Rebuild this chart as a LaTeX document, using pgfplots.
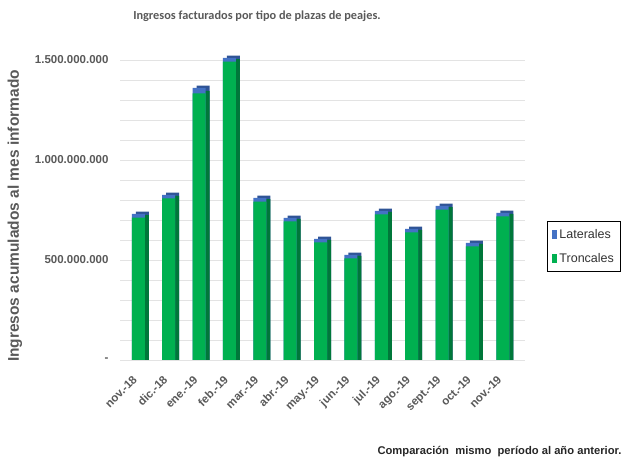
\documentclass[border=0pt]{standalone}
\usepackage{pgfplots}
\pgfplotsset{compat=1.18}
\usepackage{pgfplotstable}
\usepackage{fontspec}
\setmainfont{Liberation Sans}
\newfontfamily\calibri{Carlito}
\definecolor{fg}{HTML}{00B050}
\definecolor{sg}{HTML}{00773A}
\definecolor{fb}{HTML}{4472C4}
\definecolor{sb}{HTML}{2F5496}
\definecolor{txt}{HTML}{595959}
\definecolor{gridc}{HTML}{E3E3E3}

% values in millions
\pgfplotstableread{
x tron lat
0 712 18
1 808 17
2 1333 27
3 1492 18
4 792 18
5 693 17
6 588 17
7 508 17
8 728 17
9 638 17
10 752 18
11 568 17
12 718 17
}\data

\begin{document}
\begin{tikzpicture}
\path (0,0) rectangle (627bp,462bp);
\begin{axis}[
  at={(120bp,102bp)}, anchor=south west,
  scale only axis, width=405bp, height=300bp,
  xmin=-0.603, xmax=12.73, ymin=0, ymax=1500,
  clip=false,
  axis x line*=bottom, axis y line*=left,
  x axis line style={draw=gridc, line width=0.8pt},
  y axis line style={draw=none},
  major tick length=0pt, minor tick length=0pt,
  xtick={0,...,12},
  xticklabels={nov.-18, dic.-18, ene.-19, feb.-19, mar.-19, abr.-19, may.-19, jun.-19, jul.-19, ago.-19, sept.-19, oct.-19, nov.-19},
  xticklabel style={rotate=45, anchor=north east, font=\bfseries\fontsize{11.5bp}{13bp}\selectfont, text=txt, inner sep=1bp, yshift=-4.9bp, xshift=-13.9bp},
  ytick={0,500,1000,1500},
  yticklabels={-, 500.000.000, 1.000.000.000, 1.500.000.000},
  yticklabel style={font=\bfseries\fontsize{11.5bp}{13bp}\selectfont, text=txt, xshift=-8bp},
  minor ytick={100,200,300,400,600,700,800,900,1100,1200,1300,1400},
  ymajorgrids, yminorgrids,
  major grid style={draw=gridc, line width=0.8pt},
  minor grid style={draw=gridc, line width=0.8pt},
  legend style={at={(axis description cs:1.054,0.378)}, anchor=west, draw=black, line width=1.2pt,
     font=\fontsize{12.5bp}{14bp}\selectfont, text=black!80, row sep=9bp, inner xsep=5bp, inner ysep=6bp},
  legend cell align=left,
  legend image code/.code={\fill[#1] (0bp,-4.5bp) rectangle (5bp,4.5bp);},
]
\addplot[ybar, bar width=13bp, bar shift=4bp, fill=sb, draw=none, forget plot]
  table[x=x, y expr=\thisrow{tron}+\thisrow{lat}+12]{\data};
\addplot[ybar, bar width=13bp, bar shift=4bp, fill=sg, draw=none, forget plot]
  table[x=x, y expr=\thisrow{tron}+12]{\data};
\addplot[ybar, bar width=13bp, bar shift=0bp, fill=fb, draw=none]
  table[x=x, y expr=\thisrow{tron}+\thisrow{lat}]{\data};
\addlegendentry{Laterales}
\addplot[ybar, bar width=13bp, bar shift=0bp, fill=fg, draw=none]
  table[x=x, y=tron]{\data};
\addlegendentry{Troncales}
\end{axis}
\node[text=txt, font=\calibri\bfseries\fontsize{12.3bp}{14bp}\selectfont] at (257bp,446bp) {Ingresos facturados por tipo de plazas de peajes.};
\node[text=txt, rotate=90, font=\bfseries\fontsize{15.5bp}{18bp}\selectfont] at (15bp,246bp) {Ingresos acumulados al mes informado};
\node[anchor=east, text=black!85, font=\bfseries\fontsize{11.2bp}{13bp}\selectfont] at (625bp,10bp) {Comparación\ \ mismo\ \ período\ al año anterior.};
\end{tikzpicture}
\end{document}
